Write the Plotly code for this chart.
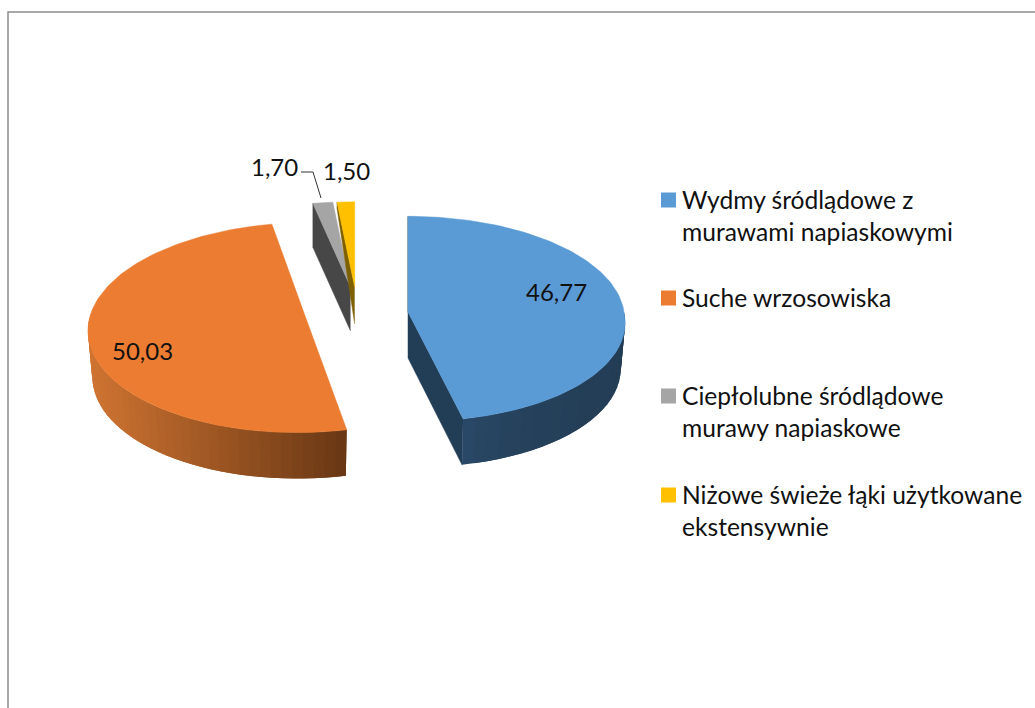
import numpy as np
import plotly.graph_objects as go

# ---- data ----
categories = [
    "Wydmy śródlądowe z<br>murawami napiaskowymi",
    "Suche wrzosowiska",
    "Ciepłolubne śródlądowe<br>murawy napiaskowe",
    "Niżowe świeże łąki użytkowane<br>ekstensywnie",
]
values = [46.77, 50.03, 1.70, 1.50]
top_colors = ["#5B9BD5", "#EB7C31", "#A5A5A5", "#FFC000"]

# ---- drawing geometry (pixel-mapped axes) ----
W, H = 1035, 708
FONT = "Lato"
FS_LEGEND = 24.6
FS_LABEL = 24
geo = [
    dict(cx=408, cy=312, R=216, A=102, p=0.066, s=0.0, s_down=0.08, d=46, f=0.98),
    dict(cx=304, cy=313, R=213, A=103, p=0.139, s=-0.06, s_down=-0.06, d=46, f=0.98),
    dict(cx=350.5, cy=287, R=214, A=97, p=0.139, s=0.0, s_down=0.0, d=44, f=1.0),
    dict(cx=354.7, cy=287, R=214, A=97, p=0.139, s=0.0, s_down=0.0, d=37, f=1.0),
]
edges = np.concatenate([[0], np.cumsum(values)]) / sum(values) * 2 * np.pi


def project(t, g):
    t = np.asarray(t, dtype=float)
    X, Z = np.sin(t), np.cos(t)
    w = 1 + g["p"] * Z
    x = g["R"] * X / w
    y = -g["A"] * Z / w
    sh = np.where(y > 0, g["s_down"], g["s"])
    return g["cx"] + x + sh * y, g["cy"] + y


def lower(x, y, g):
    return g["cx"] + (np.asarray(x) - g["cx"]) * g["f"], np.asarray(y) + g["d"]


fig = go.Figure()


def poly(xs, ys, color, width=0.0):
    fig.add_trace(go.Scatter(
        x=list(xs), y=list(ys), mode="lines", fill="toself", fillcolor=color,
        line=dict(color=color, width=width), hoverinfo="skip", showlegend=False))


def mix(c1, c2, u):
    return "rgb({},{},{})".format(*[int(round(a + (b - a) * u)) for a, b in zip(c1, c2)])


def side(i, a0, a1, n, c_left, c_right, power=1.0):
    """Curved outer wall: overlapping strips, painted from one end to the other."""
    g = geo[i]
    ts = np.linspace(a0, a1, n + 1)
    x, y = project(ts, g)
    xl, yl = lower(x, y, g)
    for k in range(n, 0, -1):
        j = max(k - 2, 0)
        xm = 0.5 * (x[k] + x[k - 1])
        u = ((xm - x.min()) / (x.max() - x.min())) ** power
        poly([x[j], x[k], xl[k], xl[j]], [y[j], y[k], yl[k], yl[j]], mix(c_left, c_right, u))


def wall(i, a, color, d_far=None):
    g = geo[i]
    x, y = project([a], g)
    xl, yl = lower(x, y, g)
    if d_far is not None:
        xl, yl = x, y + d_far
    poly([g["cx"], x[0], xl[0], g["cx"]], [g["cy"], y[0], yl[0], g["cy"] + g["d"]], color, 0.5)


def top(i):
    g = geo[i]
    ts = np.linspace(edges[i], edges[i + 1], 120)
    x, y = project(ts, g)
    poly(np.r_[g["cx"], x, g["cx"]], np.r_[g["cy"], y, g["cy"]], top_colors[i], 0.5)


# blue slice
wall(0, edges[0], "#223D56", d_far=30)
wall(0, edges[1], "#223D56")
side(0, np.pi / 2, edges[1], 24, (44, 76, 110), (35, 61, 85), power=0.35)
top(0)
# orange slice
side(1, edges[1], 1.5 * np.pi, 40, (208, 116, 50), (104, 55, 20))
top(1)
# grey slice
wall(2, edges[2], "#474747")
top(2)
# yellow slice
wall(3, edges[3], "#7F6000", d_far=6)
top(3)

# legend swatches and text
legend_y = [200, 298, 396, 495]
for c, ly, name in zip(top_colors, legend_y, categories):
    fig.add_trace(go.Scatter(
        x=[668.5], y=[ly], mode="markers",
        marker=dict(symbol="square", size=15, color=c, line=dict(width=0)),
        name=name.replace("<br>", " "), showlegend=False, hoverinfo="name"))
    for j, line in enumerate(name.split("<br>")):
        fig.add_annotation(x=680, y=ly - 1 + 32 * j, text=line, showarrow=False, xanchor="left",
                           yanchor="middle", font=dict(family=FONT, size=FS_LEGEND, color="#111"))

# data labels
label_xy = [(556, 291), (142, 350), (274, 166), (346, 170)]
for v, (lx, ly) in zip(values, label_xy):
    fig.add_annotation(x=lx, y=ly, text=f"{v:.2f}".replace(".", ","), showarrow=False,
                       font=dict(family=FONT, size=FS_LABEL, color="#111"))

# leader line for the grey slice label
fig.add_shape(type="path", path="M 301 172 L 313 172 L 321 198", line=dict(color="#333", width=1))

# outer chart frame
fig.add_shape(type="rect", x0=8, y0=12, x1=W + 20, y1=H + 20,
              line=dict(color="#8C8C8C", width=1.5), fillcolor="rgba(0,0,0,0)")

fig.update_layout(
    width=W, height=H, margin=dict(l=0, r=0, t=0, b=0), showlegend=False,
    paper_bgcolor="white", plot_bgcolor="white",
    xaxis=dict(range=[0, W], visible=False, fixedrange=True),
    yaxis=dict(range=[H, 0], visible=False, fixedrange=True),
)
fig.write_html("out.html", config={"displayModeBar": False},
               post_script="document.body.style.margin='0';")
